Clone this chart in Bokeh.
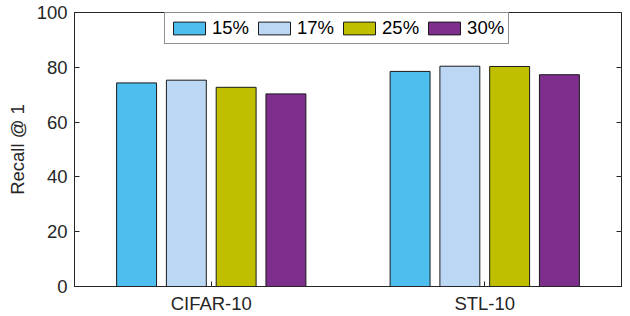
from bokeh.plotting import figure
from bokeh.models import ColumnDataSource, Range1d, LinearAxis, Legend
from bokeh.transform import dodge
from bokeh.embed import file_html
from bokeh.resources import INLINE

categories = ["CIFAR-10", "STL-10"]
series_names = ["15%", "17%", "25%", "30%"]
v15 = [74.3, 78.5]
v17 = [75.3, 80.4]
v25 = [72.7, 80.3]
v30 = [70.3, 77.3]
y_ticks = [0, 20, 40, 60, 80, 100]

colors = ["#4DBEEE", "#BBD7F3", "#BFBF00", "#7E2F8E"]
offsets = [-0.273, -0.091, 0.091, 0.273]

x_pos = [i + 1 for i in range(len(categories))]
source = ColumnDataSource(dict(x=x_pos, cat=categories, s15=v15, s17=v17, s25=v25, s30=v30))
keys = ["s15", "s17", "s25", "s30"]

FONT = "Liberation Sans"
TXT = "#262626"
FS = "18.5px"

p = figure(width=630, height=316, output_backend="svg", toolbar_location=None,
           x_range=Range1d(0.5, len(categories) + 0.5), y_range=Range1d(0, 100),
           min_border_left=74, min_border_right=9, min_border_top=12, min_border_bottom=29)

renderers = []
for k, name, c, off in zip(keys, series_names, colors, offsets):
    r = p.vbar(x=dodge("x", off), top=k, width=0.146, source=source,
               fill_color=c, line_color="#1a1a1a", line_width=1)
    renderers.append((name, [r]))

p.xgrid.visible = False
p.ygrid.visible = False
p.outline_line_color = TXT
p.outline_line_width = 1
p.background_fill_color = "white"
p.border_fill_color = "white"

for ax in p.xaxis + p.yaxis:
    ax.major_tick_in = 5
    ax.major_tick_out = 0
    ax.minor_tick_in = 0
    ax.minor_tick_out = 0
    ax.axis_line_color = TXT
    ax.major_tick_line_color = TXT
    ax.major_label_text_color = TXT
    ax.major_label_text_font = FONT
    ax.major_label_text_font_size = FS

p.xaxis.ticker = x_pos
p.xaxis.major_label_overrides = {x: c for x, c in zip(x_pos, categories)}
p.xaxis.major_label_standoff = 6

p.yaxis.ticker = y_ticks
p.yaxis.major_label_standoff = 7
p.yaxis.axis_label = "Recall @ 1"
p.yaxis.axis_label_text_font = FONT
p.yaxis.axis_label_text_font_size = FS
p.yaxis.axis_label_text_font_style = "normal"
p.yaxis.axis_label_text_color = TXT
p.yaxis.axis_label_standoff = 6

top_ax = LinearAxis(ticker=x_pos, major_label_overrides={x: "" for x in x_pos},
                    major_tick_in=5, major_tick_out=0, minor_tick_in=0, minor_tick_out=0,
                    major_label_standoff=0, axis_line_color=None, major_tick_line_color=TXT)
right_ax = LinearAxis(ticker=y_ticks, major_label_overrides={t: "" for t in y_ticks},
                      major_tick_in=5, major_tick_out=0,
                      minor_tick_in=0, minor_tick_out=0,
                      major_label_standoff=0, axis_line_color=None, major_tick_line_color=TXT)
p.add_layout(top_ax, "above")
p.add_layout(right_ax, "right")

legend = Legend(items=renderers, orientation="horizontal", location=(90, 242),
                glyph_width=40, glyph_height=16, label_text_font=FONT, label_text_font_size=FS,
                label_text_color="black", label_standoff=3, spacing=5, padding=4, margin=0,
                border_line_color=TXT, border_line_width=1, label_height=16)
p.add_layout(legend, "center")

open("out.html", "w").write(file_html(p, INLINE))
